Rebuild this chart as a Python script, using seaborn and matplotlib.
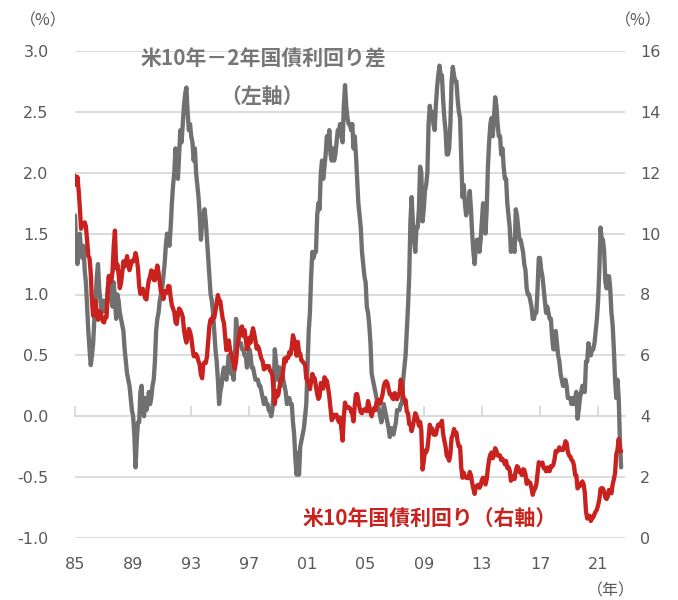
import numpy as np
import pandas as pd
import matplotlib
matplotlib.use("Agg")
import matplotlib.pyplot as plt
import seaborn as sns

# Monthly series, January 1985 through August 2022
start_year = 1985

# US 10y - 2y Treasury spread (%), left axis
spread = [
    1.65, 1.40, 1.25, 1.45, 1.50, 1.35, 1.30, 1.40, 1.20, 1.10, 0.90, 0.70,   # 1985
    0.55, 0.42, 0.50, 0.60, 0.80, 0.95, 1.15, 1.25, 1.05, 0.95, 0.85, 0.90,   # 1986
    0.95, 0.90, 0.85, 1.05, 1.15, 1.00, 0.95, 0.90, 1.10, 0.95, 0.80, 1.00,   # 1987
    0.95, 0.85, 0.80, 0.75, 0.70, 0.55, 0.45, 0.35, 0.30, 0.25, 0.15, 0.05,   # 1988
    0.00, -0.15, -0.42, -0.20, -0.05, -0.05, 0.20, 0.25, 0.05, 0.00, 0.15, 0.05,  # 1989
    0.10, 0.20, 0.10, 0.15, 0.25, 0.30, 0.45, 0.70, 0.80, 0.85, 0.95, 1.00,   # 1990
    1.05, 1.15, 1.25, 1.40, 1.50, 1.45, 1.40, 1.55, 1.75, 1.90, 2.00, 2.20,   # 1991
    2.05, 1.95, 2.15, 2.35, 2.25, 2.40, 2.55, 2.65, 2.70, 2.50, 2.35, 2.40,   # 1992
    2.30, 2.25, 2.10, 2.20, 2.00, 1.90, 1.80, 1.65, 1.45, 1.60, 1.65, 1.70,   # 1993
    1.60, 1.45, 1.30, 1.15, 1.00, 0.95, 0.85, 0.70, 0.55, 0.45, 0.30, 0.10,   # 1994
    0.20, 0.25, 0.35, 0.40, 0.35, 0.30, 0.40, 0.50, 0.40, 0.35, 0.35, 0.30,   # 1995
    0.45, 0.80, 0.70, 0.60, 0.60, 0.60, 0.55, 0.55, 0.50, 0.50, 0.40, 0.50,   # 1996
    0.55, 0.50, 0.40, 0.40, 0.35, 0.30, 0.30, 0.30, 0.25, 0.25, 0.20, 0.15,   # 1997
    0.10, 0.15, 0.10, 0.10, 0.05, 0.05, 0.00, 0.05, 0.20, 0.55, 0.45, 0.30,   # 1998
    0.40, 0.40, 0.25, 0.35, 0.30, 0.25, 0.20, 0.10, 0.15, 0.15, 0.10, 0.10,   # 1999
    -0.05, -0.15, -0.35, -0.48, -0.30, -0.48, -0.25, -0.20, -0.15, -0.10, 0.00, 0.10,  # 2000
    0.40, 0.70, 0.85, 1.15, 1.35, 1.30, 1.35, 1.35, 1.65, 1.75, 1.70, 2.00,   # 2001
    2.10, 1.95, 2.05, 2.15, 2.30, 2.20, 2.35, 2.15, 2.10, 2.20, 2.10, 2.15,   # 2002
    2.25, 2.35, 2.35, 2.40, 2.30, 2.25, 2.55, 2.72, 2.55, 2.45, 2.40, 2.40,   # 2003
    2.35, 2.40, 2.20, 2.30, 2.15, 1.95, 1.75, 1.65, 1.55, 1.35, 1.25, 1.15,   # 2004
    1.10, 0.90, 0.85, 0.75, 0.60, 0.35, 0.30, 0.25, 0.20, 0.15, 0.10, 0.05,   # 2005
    0.00, -0.05, 0.00, 0.10, 0.05, 0.00, -0.05, -0.10, -0.17, -0.10, -0.10, -0.15,  # 2006
    -0.10, -0.05, 0.05, 0.05, 0.05, 0.10, 0.10, 0.30, 0.40, 0.50, 0.70, 0.90,  # 2007
    1.15, 1.60, 1.80, 1.60, 1.45, 1.35, 1.55, 1.55, 1.70, 2.05, 2.00, 1.60,   # 2008
    1.70, 1.85, 1.90, 2.00, 2.40, 2.55, 2.45, 2.50, 2.40, 2.35, 2.55, 2.70,   # 2009
    2.80, 2.88, 2.80, 2.80, 2.60, 2.45, 2.35, 2.15, 2.15, 2.20, 2.40, 2.75,   # 2010
    2.87, 2.80, 2.75, 2.75, 2.60, 2.50, 2.45, 2.10, 1.80, 1.90, 1.75, 1.65,   # 2011
    1.70, 1.75, 1.85, 1.70, 1.50, 1.35, 1.25, 1.40, 1.45, 1.45, 1.35, 1.45,   # 2012
    1.60, 1.75, 1.60, 1.50, 1.70, 2.05, 2.25, 2.40, 2.45, 2.30, 2.45, 2.62,   # 2013
    2.55, 2.40, 2.30, 2.30, 2.15, 2.20, 2.05, 1.95, 1.95, 1.75, 1.65, 1.55,   # 2014
    1.35, 1.45, 1.40, 1.35, 1.70, 1.65, 1.55, 1.45, 1.45, 1.40, 1.35, 1.25,   # 2015
    1.20, 1.05, 1.00, 1.00, 0.95, 0.90, 0.80, 0.80, 0.85, 0.85, 1.05, 1.30,   # 2016
    1.30, 1.20, 1.15, 1.05, 0.95, 0.85, 0.90, 0.85, 0.80, 0.80, 0.65, 0.55,   # 2017
    0.55, 0.70, 0.60, 0.50, 0.45, 0.35, 0.30, 0.25, 0.25, 0.30, 0.25, 0.15,   # 2018
    0.15, 0.15, 0.10, 0.15, 0.10, 0.15, 0.20, -0.02, 0.05, 0.15, 0.20, 0.25,  # 2019
    0.20, 0.20, 0.45, 0.45, 0.60, 0.55, 0.50, 0.55, 0.55, 0.60, 0.70, 0.80,   # 2020
    0.95, 1.20, 1.55, 1.45, 1.45, 1.35, 1.10, 1.05, 1.15, 1.15, 1.05, 0.85,   # 2021
    0.75, 0.55, 0.30, 0.15, 0.30, 0.15, -0.20, -0.42,                          # 2022
]

# US 10y Treasury yield (%), right axis
yield10 = [
    11.90, 11.60, 11.86, 11.43, 10.85, 10.16, 10.31, 10.33, 10.37, 10.24, 9.78, 9.26,  # 1985
    9.19, 8.70, 7.78, 7.30, 7.71, 7.80, 7.30, 7.17, 7.45, 7.43, 7.25, 7.11,    # 1986
    7.08, 7.25, 7.25, 8.02, 8.61, 8.40, 8.45, 8.76, 9.60, 10.10, 8.86, 8.99,   # 1987
    8.67, 8.21, 8.37, 8.72, 9.09, 8.92, 9.06, 9.26, 8.98, 8.80, 8.96, 9.11,    # 1988
    9.09, 9.17, 9.36, 9.18, 8.86, 8.28, 8.02, 8.11, 8.19, 8.01, 7.87, 7.84,    # 1989
    8.21, 8.47, 8.59, 8.79, 8.76, 8.48, 8.47, 8.75, 8.95, 8.72, 8.39, 8.08,    # 1990
    8.09, 7.85, 8.11, 8.04, 8.07, 8.28, 8.27, 7.90, 7.65, 7.53, 7.42, 7.09,    # 1991
    7.03, 7.34, 7.54, 7.48, 7.39, 7.26, 6.84, 6.59, 6.42, 6.59, 6.87, 6.77,    # 1992
    6.60, 6.26, 5.98, 5.97, 6.04, 5.96, 5.81, 5.68, 5.36, 5.25, 5.72, 5.77,    # 1993
    5.75, 5.97, 6.48, 6.97, 7.18, 7.10, 7.30, 7.24, 7.46, 7.74, 7.98, 7.81,    # 1994
    7.78, 7.47, 7.20, 7.06, 6.63, 6.17, 6.28, 6.49, 6.20, 6.04, 5.93, 5.71,    # 1995
    5.55, 5.81, 6.27, 6.51, 6.74, 6.91, 6.95, 6.64, 6.83, 6.53, 6.20, 6.30,    # 1996
    6.58, 6.42, 6.69, 6.89, 6.71, 6.49, 6.22, 6.30, 6.21, 6.03, 5.88, 5.81,    # 1997
    5.54, 5.57, 5.65, 5.64, 5.65, 5.50, 5.46, 5.34, 4.81, 4.40, 4.83, 4.65,    # 1998
    4.72, 5.00, 5.23, 5.18, 5.54, 5.90, 5.79, 5.94, 5.92, 6.11, 6.03, 6.28,    # 1999
    6.66, 6.52, 6.26, 5.99, 6.44, 6.10, 6.05, 5.83, 5.80, 5.74, 5.72, 5.24,    # 2000
    5.16, 5.10, 4.89, 5.14, 5.39, 5.28, 5.24, 4.97, 4.73, 4.57, 4.65, 5.09,    # 2001
    5.04, 4.91, 5.28, 5.21, 5.16, 4.93, 4.65, 4.26, 3.87, 3.94, 4.05, 4.03,    # 2002
    4.05, 3.90, 3.81, 3.96, 3.57, 3.20, 3.98, 4.45, 4.27, 4.29, 4.30, 4.27,    # 2003
    4.15, 4.08, 3.83, 4.35, 4.72, 4.73, 4.50, 4.28, 4.13, 4.10, 4.19, 4.23,    # 2004
    4.22, 4.17, 4.50, 4.34, 4.14, 4.00, 4.18, 4.26, 4.20, 4.46, 4.54, 4.47,    # 2005
    4.42, 4.57, 4.72, 4.99, 5.11, 5.15, 5.09, 4.88, 4.72, 4.73, 4.60, 4.56,    # 2006
    4.76, 4.72, 4.56, 4.69, 4.75, 5.20, 5.00, 4.67, 4.52, 4.53, 4.15, 4.10,    # 2007
    3.74, 3.74, 3.51, 3.68, 3.88, 4.10, 4.01, 3.89, 3.69, 3.81, 3.53, 2.25,    # 2008
    2.52, 2.87, 2.82, 2.93, 3.29, 3.72, 3.56, 3.59, 3.40, 3.39, 3.40, 3.59,    # 2009
    3.73, 3.69, 3.73, 3.85, 3.42, 3.20, 3.01, 2.70, 2.65, 2.54, 2.76, 3.29,    # 2010
    3.39, 3.58, 3.41, 3.46, 3.17, 3.00, 3.00, 2.30, 1.98, 2.15, 2.01, 1.98,    # 2011
    1.97, 1.97, 2.17, 2.05, 1.80, 1.62, 1.45, 1.68, 1.72, 1.75, 1.65, 1.72,    # 2012
    1.91, 1.98, 1.96, 1.76, 1.93, 2.30, 2.58, 2.74, 2.81, 2.62, 2.72, 2.95,    # 2013
    2.86, 2.71, 2.72, 2.71, 2.56, 2.60, 2.54, 2.42, 2.53, 2.30, 2.33, 2.21,    # 2014
    1.88, 1.98, 2.04, 1.94, 2.20, 2.36, 2.32, 2.17, 2.17, 2.07, 2.26, 2.24,    # 2015
    2.09, 1.78, 1.89, 1.81, 1.81, 1.64, 1.42, 1.56, 1.63, 1.76, 2.14, 2.49,    # 2016
    2.43, 2.42, 2.48, 2.30, 2.30, 2.19, 2.32, 2.21, 2.20, 2.36, 2.35, 2.40,    # 2017
    2.58, 2.86, 2.84, 2.87, 2.98, 2.91, 2.89, 2.89, 3.00, 3.18, 3.12, 2.83,    # 2018
    2.71, 2.68, 2.57, 2.53, 2.40, 2.07, 2.06, 1.63, 1.70, 1.71, 1.81, 1.86,    # 2019
    1.76, 1.50, 0.87, 0.64, 0.67, 0.73, 0.56, 0.65, 0.68, 0.79, 0.87, 0.93,    # 2020
    1.08, 1.26, 1.61, 1.64, 1.62, 1.52, 1.32, 1.28, 1.37, 1.58, 1.56, 1.47,    # 2021
    1.76, 1.93, 2.13, 2.75, 2.90, 3.25, 2.90, 2.85,                            # 2022
]

year_ticks = [1985, 1989, 1993, 1997, 2001, 2005, 2009, 2013, 2017, 2021]
year_labels = ["85", "89", "93", "97", "01", "05", "09", "13", "17", "21"]
left_ticks = [-1.0, -0.5, 0.0, 0.5, 1.0, 1.5, 2.0, 2.5, 3.0]
right_ticks = [0, 2, 4, 6, 8, 10, 12, 14, 16]

GRAY = "#707070"
RED = "#c9211e"
TXT = "#595959"
GRID = "#d9d9d9"

t = start_year + np.arange(len(yield10)) / 12.0
df = pd.DataFrame({"t": t, "spread": spread, "yield10": yield10})

sns.set_style("white")
plt.rcParams["font.family"] = ["DejaVu Sans", "Noto Sans CJK JP"]

W, H = 678, 600
fig = plt.figure(figsize=(W / 100, H / 100), dpi=100)
ax = fig.add_axes([75 / W, 62 / H, 550 / W, 487 / H])
ax2 = ax.twinx()

sns.lineplot(data=df, x="t", y="spread", ax=ax, color=GRAY, lw=3.1,
             estimator=None, legend=False)
sns.lineplot(data=df, x="t", y="yield10", ax=ax2, color=RED, lw=3.1,
             estimator=None, legend=False)

ax.set_xlim(1985, 2022.85)
ax.set_ylim(-1.0, 3.0)
ax2.set_ylim(0, 16)

ax.set_yticks(left_ticks, [f"{v:.1f}" for v in left_ticks])
ax2.set_yticks(right_ticks, [str(v) for v in right_ticks])
ax.set_xticks(year_ticks, year_labels)

ax.grid(axis="y", color=GRID, lw=1.3)
ax.grid(axis="x", visible=False)
ax2.grid(False)
ax.set_axisbelow(True)
for a in (ax, ax2):
    for sp in a.spines.values():
        sp.set_visible(False)
    a.set_xlabel("")
    a.set_ylabel("")

ax.tick_params(axis="y", length=0, pad=19, labelsize=11.5, labelcolor=TXT)
ax2.tick_params(axis="y", length=0, pad=11, labelsize=11.5, labelcolor=TXT)
ax.tick_params(axis="x", length=0, pad=14, labelsize=11.5, labelcolor=TXT)

# zero line carries the year tick marks
zero_axis = ax.secondary_xaxis(0.25)
zero_axis.set_xticks(year_ticks, [""] * len(year_ticks))
zero_axis.tick_params(axis="x", direction="in", length=7, width=1.3, color=GRID)
zero_axis.spines["bottom"].set_color(GRID)
zero_axis.spines["bottom"].set_linewidth(1.3)


def ftext(x, y, s, **kw):
    fig.text(x / W, 1 - y / H, s, ha="center", va="center", **kw)


cjk = ["Noto Sans CJK JP", "DejaVu Sans"]
ftext(43, 21, "（%）", fontsize=11.5, color=TXT, family=cjk)
ftext(638, 21, "（%）", fontsize=11.5, color=TXT, family=cjk)
ftext(611, 591, "（年）", fontsize=11.5, color=TXT, family=cjk)
ftext(263, 59, "米10年－2年国債利回り差", fontsize=15, color="#767676",
      fontweight="bold", family=cjk)
ftext(262, 96, "（左軸）", fontsize=15, color="#767676", fontweight="bold", family=cjk)
ftext(430, 519, "米10年国債利回り（右軸）", fontsize=15, color=RED,
      fontweight="bold", family=cjk)

fig.savefig("out.png", dpi=100)
